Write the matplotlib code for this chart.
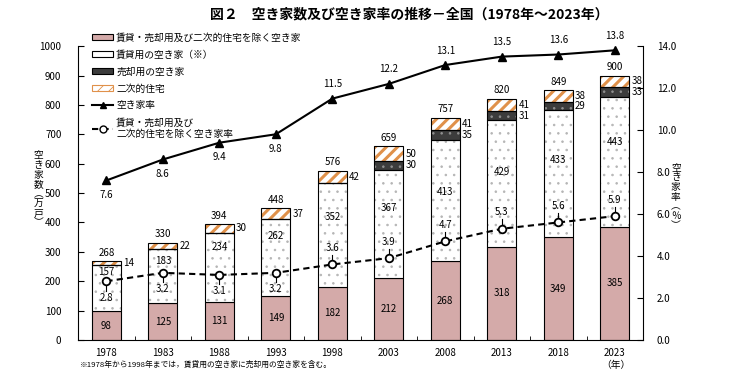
import matplotlib.pyplot as plt
import numpy as np
from matplotlib.patches import Patch
from matplotlib.lines import Line2D

plt.rcParams['font.family'] = ['Noto Sans CJK JP', 'DejaVu Sans']
plt.rcParams['hatch.linewidth'] = 0.6

# data
years = ['1978', '1983', '1988', '1993', '1998', '2003', '2008', '2013', '2018', '2023']
other = [98, 125, 131, 149, 182, 212, 268, 318, 349, 385]      # 賃貸・売却用及び二次的住宅を除く空き家
rental = [157, 183, 234, 262, 352, 367, 413, 429, 433, 443]    # 賃貸用の空き家
sale = [0, 0, 0, 0, 0, 30, 35, 31, 29, 33]                     # 売却用の空き家
second = [14, 22, 30, 37, 42, 50, 41, 41, 38, 38]              # 二次的住宅
total = [268, 330, 394, 448, 576, 659, 757, 820, 849, 900]
rate = [7.6, 8.6, 9.4, 9.8, 11.5, 12.2, 13.1, 13.5, 13.6, 13.8]
rate_other = [2.8, 3.2, 3.1, 3.2, 3.6, 3.9, 4.7, 5.3, 5.6, 5.9]

# where the rental label sits inside its segment (fraction of height)
rental_lab_pos = [0.85, 0.78, 0.79, 0.78, 0.67, 0.65, 0.57, 0.59, 0.61, 0.65]

pink = '#d4aaa9'
orange = '#e0914a'
dark = '#3c3c3c'

x = np.arange(len(years))
w = 0.51
other = np.array(other)
rental = np.array(rental)
sale = np.array(sale)
second = np.array(second)

fig = plt.figure(figsize=(7.37, 3.78), dpi=100)
ax = fig.add_axes([0.106, 0.1005, 0.7665, 0.7775])

b1 = other
b2 = b1 + rental
b3 = b2 + sale

ax.bar(x, other, w, color=pink, edgecolor='black', linewidth=0.8, zorder=2)
ax.bar(x, rental, w, bottom=b1, color='white', edgecolor='#b5b5b5', hatch='..', linewidth=0, zorder=2)
ax.bar(x, rental, w, bottom=b1, fill=False, edgecolor='black', linewidth=0.8, zorder=3)
ax.bar(x, sale, w, bottom=b2, color=dark, edgecolor='#909090', hatch='..', linewidth=0, zorder=2)
ax.bar(x, sale, w, bottom=b2, fill=False, edgecolor='black', linewidth=0.8, zorder=3)
with plt.rc_context({'hatch.linewidth': 2.2}):
    ax.bar(x, second, w, bottom=b3, color='white', edgecolor=orange, hatch='///', linewidth=0, zorder=2)
ax.bar(x, second, w, bottom=b3, fill=False, edgecolor='black', linewidth=0.8, zorder=3)

fs = 7
for i in range(len(years)):
    ax.text(x[i], other[i] / 2, str(other[i]), ha='center', va='center', fontsize=fs, zorder=5)
    ax.text(x[i], b1[i] + rental[i] * rental_lab_pos[i], str(rental[i]), ha='center', va='center',
            fontsize=fs, zorder=5)
    if sale[i] > 0:
        ax.text(x[i] + w / 2 + 0.04, b2[i] + sale[i] / 2, str(sale[i]), ha='left', va='center',
                fontsize=fs, zorder=5)
    ax.text(x[i] + w / 2 + 0.04, b3[i] + second[i] / 2, str(second[i]), ha='left', va='center',
            fontsize=fs, zorder=5)
    ax.text(x[i], total[i] + 12, str(total[i]), ha='center', va='bottom', fontsize=fs, zorder=5)

ax.set_xlim(-0.5, 9.5)
ax.set_ylim(0, 1000)
ax.set_yticks(range(0, 1001, 100))
ax.set_xticks(x)
ax.set_xticklabels(years, fontsize=fs)
ax.set_xticks(np.arange(0.5, 9.5, 1), minor=True)
ax.tick_params(axis='x', which='major', length=0, pad=6)
ax.tick_params(axis='x', which='minor', direction='in', length=3)
ax.tick_params(axis='y', direction='in', length=4, labelsize=fs, pad=12)
for s in ['top', 'right']:
    ax.spines[s].set_visible(False)

ax2 = ax.twinx()
ax2.set_ylim(0, 14)
ax2.set_yticks(np.arange(0, 14.1, 2))
ax2.set_yticklabels(['%.1f' % v for v in np.arange(0, 14.1, 2)])
ax2.tick_params(axis='y', direction='in', length=4, labelsize=fs, pad=10)
for s in ['top', 'left', 'bottom']:
    ax2.spines[s].set_visible(False)

ax2.plot(x, rate, color='black', linewidth=1.5, marker='^', markersize=6, zorder=6)
ax2.plot(x, rate_other, color='black', linewidth=1.5, linestyle=(0, (3, 2)), marker='o',
         markersize=5.5, markerfacecolor='white', markeredgecolor='black', markeredgewidth=1.3, zorder=6)

for i in range(len(years)):
    if i < 4:
        ax2.text(x[i], rate[i] - 0.45, '%.1f' % rate[i], ha='center', va='top', fontsize=fs)
    else:
        ax2.text(x[i], rate[i] + 0.45, '%.1f' % rate[i], ha='center', va='bottom', fontsize=fs)
    if i < 4:
        ax2.plot([x[i], x[i]], [rate_other[i], rate_other[i] - 0.45], color='black', linewidth=0.8, zorder=5)
        ax2.text(x[i], rate_other[i] - 0.55, '%.1f' % rate_other[i], ha='center', va='top', fontsize=fs)
    else:
        ax2.plot([x[i], x[i]], [rate_other[i], rate_other[i] + 0.45], color='black', linewidth=0.8, zorder=5)
        ax2.text(x[i], rate_other[i] + 0.55, '%.1f' % rate_other[i], ha='center', va='bottom', fontsize=fs)

# legend
with plt.rc_context({'hatch.linewidth': 1.5}):
    leg_second = Patch(facecolor='white', edgecolor=orange, hatch='///', linewidth=0.8)
handles = [
    Patch(facecolor=pink, edgecolor='black', linewidth=0.8),
    Patch(facecolor='white', edgecolor='black', linewidth=0.8),
    Patch(facecolor=dark, edgecolor='black', linewidth=0.8),
    leg_second,
    Line2D([], [], color='black', linewidth=1.5, marker='^', markersize=5),
    Line2D([], [], color='black', linewidth=1.5, linestyle=(0, (3, 2)), marker='o', markersize=5,
           markerfacecolor='white'),
]
labels = ['賃貸・売却用及び二次的住宅を除く空き家', '賃貸用の空き家（※）', '売却用の空き家', '二次的住宅',
          '空き家率', '賃貸・売却用及び\n二次的住宅を除く空き家率']
fig.legend(handles, labels, loc='upper left', bbox_to_anchor=(0.118, 0.927), frameon=False, fontsize=fs,
           handlelength=2.2, handleheight=0.5, handletextpad=0.3, labelspacing=0.72, borderpad=0)

fig.text(0.555, 0.962, '図２　空き家数及び空き家率の推移－全国（1978年～2023年）', ha='center', va='center',
         fontsize=10, fontweight='bold')
fig.text(0.052, 0.50, '空\nき\n家\n数\n︵\n万\n戸\n︶', ha='center', va='center', fontsize=7,
         linespacing=0.95)
fig.text(0.917, 0.48, '空\nき\n家\n率\n︵\n％\n︶', ha='center', va='center', fontsize=7,
         linespacing=0.95)
fig.text(0.108, 0.035, '※1978年から1998年までは，賃貸用の空き家に売却用の空き家を含む。', ha='left',
         va='center', fontsize=5.6)
fig.text(0.835, 0.035, '（年）', ha='center', va='center', fontsize=7)

fig.savefig('out.png', dpi=100)
